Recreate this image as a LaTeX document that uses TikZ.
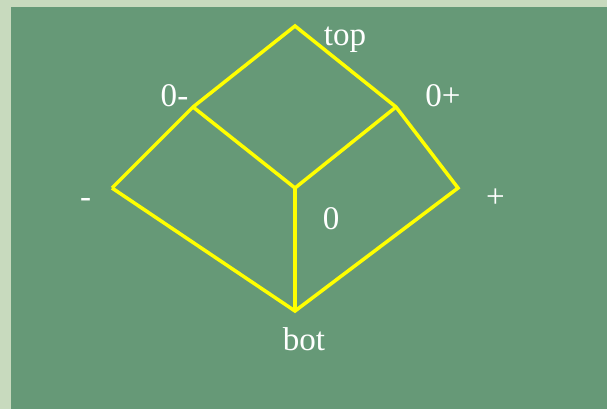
\documentclass[tikz,border=0pt]{standalone}
\usepackage{fontspec}
\setmainfont{Liberation Serif}
\usepackage{xcolor}
\usepackage{tikz}
\definecolor{slidegreen}{RGB}{102, 153, 119}
\definecolor{slidepaper}{RGB}{200, 218, 190}
\definecolor{latticeyellow}{RGB}{255, 255, 0}
\tikzset{
  edge/.style={draw=latticeyellow, line width=2pt, line join=miter},
  lbl/.style={anchor=base, text=white, inner sep=0pt, font=\fontsize{18.8}{22}\selectfont}
}

\begin{document}
\begin{tikzpicture}[x=0.02cm, y=0.02cm]
  \useasboundingbox (0,0) rectangle (607,409);
  \fill[slidepaper] (0,0) rectangle (607,409);
  \fill[slidegreen] (11,0) rectangle (607,402);
  % lattice points
  \coordinate (top) at (295,383);
  \coordinate (zm) at (193,302);
  \coordinate (zp) at (396,302);
  \coordinate (mi) at (112,221);
  \coordinate (pl) at (458,221);
  \coordinate (zero) at (295,221);
  \coordinate (bot) at (295,98);
  % edges
  \draw[edge] (mi) -- (zm) -- (top) -- (zp) -- (pl) -- (bot) -- (mi);
  \draw[edge] (zm) -- (zero) -- (zp);
  \draw[edge, line width=2.8pt] (zero) -- (bot);
  % labels
  \node[lbl] (ltop) at (345,363) {top};
  \node[lbl] (lzm) at (174.5,302) {0-};
  \node[lbl] (lzp) at (443,302) {0+};
  \node[lbl] (lmi) at (85.5,201) {-};
  \node[lbl] (lpl) at (495.5,201) {+};
  \node[lbl] (lzero) at (331,180) {0};
  \node[lbl] (lbot) at (304,59) {bot};
\end{tikzpicture}
\end{document}
